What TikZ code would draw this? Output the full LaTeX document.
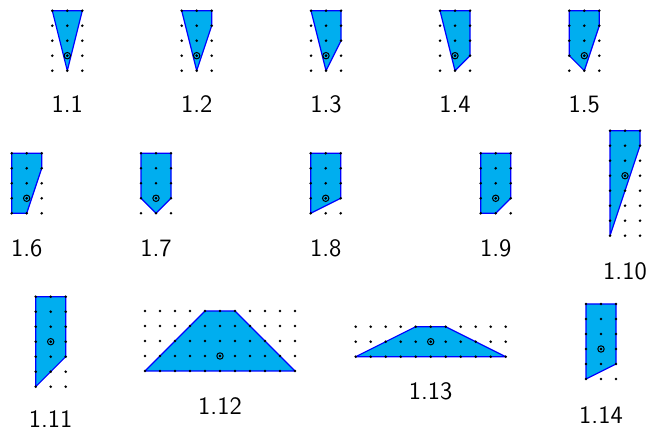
\documentclass[tikz,border=0pt]{standalone}
\tikzset{
  polyfill/.style={fill={rgb,255:red,0;green,174;blue,239}},
  polyedge/.style={draw=blue,line width=0.6pt,line join=round},
  gdot/.style={fill=black},
  lbl/.style={font=\sffamily\fontsize{12.5}{14}\selectfont,inner sep=0pt}
}
\newcommand{\latfig}[6]{%
  \begin{scope}[shift={(#1,#2)},x=7.5pt,y=-7.5pt]
    \fill[polyfill] #5 -- cycle;
    \draw[polyedge] #5 -- cycle;
    \foreach \ii in {0,...,#3}{\foreach \jj in {0,...,#4}{\fill[gdot] (\ii,\jj) circle[radius=0.72pt];}}
    \draw[line width=0.5pt] #6 circle[radius=1.6pt];
    \fill #6 circle[radius=0.6pt];
  \end{scope}}
\begin{document}
\begin{tikzpicture}[x=0.5pt,y=-0.5pt]
\useasboundingbox (0,0) rectangle (648,431);
% row 1
\latfig{52.3}{10.7}{2}{4}{(0,0) -- (2,0) -- (1,4)}{(1,3)}
\latfig{181.7}{10.7}{2}{4}{(0,0) -- (2,0) -- (2,1) -- (1,4)}{(1,3)}
\latfig{311}{10.7}{2}{4}{(0,0) -- (2,0) -- (2,2) -- (1,4)}{(1,3)}
\latfig{440}{10.7}{2}{4}{(0,0) -- (2,0) -- (2,3) -- (1,4)}{(1,3)}
\latfig{569.3}{10.7}{2}{4}{(0,0) -- (2,0) -- (2,1) -- (1,4) -- (0,3)}{(1,3)}
\node[lbl] (l1) at (67.3,104.2) {1.1};
\node[lbl] (l2) at (196.7,104.2) {1.2};
\node[lbl] (l3) at (326,104.2) {1.3};
\node[lbl] (l4) at (455,104.2) {1.4};
\node[lbl] (l5) at (584.3,104.2) {1.5};
% row 2
\latfig{11.7}{153.3}{2}{4}{(0,0) -- (2,0) -- (2,1) -- (1,4) -- (0,4)}{(1,3)}
\latfig{141}{153.3}{2}{4}{(0,0) -- (2,0) -- (2,3) -- (1,4) -- (0,3)}{(1,3)}
\latfig{310.7}{153.3}{2}{4}{(0,0) -- (2,0) -- (2,3) -- (0,4)}{(1,3)}
\latfig{480.7}{153.3}{2}{4}{(0,0) -- (2,0) -- (2,3) -- (1,4) -- (0,4)}{(1,3)}
\latfig{610}{130.7}{2}{7}{(0,0) -- (2,0) -- (2,1) -- (0,7)}{(1,3)}
\node[lbl] (l6) at (26.7,248) {1.6};
\node[lbl] (l7) at (156,248) {1.7};
\node[lbl] (l8) at (325.7,248) {1.8};
\node[lbl] (l9) at (495.7,248) {1.9};
\node[lbl] (l10) at (625,271) {1.10};
% row 3
\latfig{35.7}{296.7}{2}{6}{(0,0) -- (2,0) -- (2,4) -- (0,6)}{(1,3)}
\latfig{145}{311}{10}{4}{(4,0) -- (6,0) -- (10,4) -- (0,4)}{(5,3)}
\latfig{355.7}{326.7}{10}{2}{(4,0) -- (6,0) -- (10,2) -- (0,2)}{(5,1)}
\latfig{586}{304}{2}{5}{(0,0) -- (2,0) -- (2,4) -- (0,5)}{(1,3)}
\node[lbl] (l11) at (50.7,419.5) {1.11};
\node[lbl] (l12) at (220,406.5) {1.12};
\node[lbl] (l13) at (430.7,391.5) {1.13};
\node[lbl] (l14) at (601,415) {1.14};
\end{tikzpicture}
\end{document}
